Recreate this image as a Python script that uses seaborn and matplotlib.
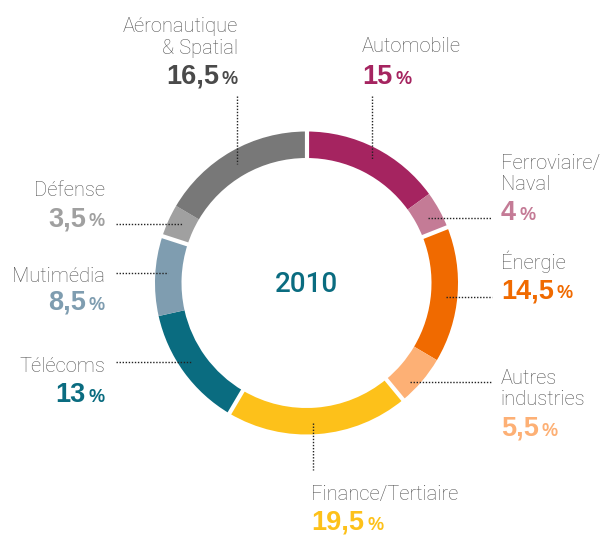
import matplotlib
matplotlib.use("Agg")
import matplotlib.pyplot as plt
import numpy as np
import seaborn as sns

# Data: share of revenue by sector, 2010 (clockwise from 12 o'clock)
sectors = ["Automobile", "Ferroviaire/\nNaval", "Énergie", "Autres\nindustries",
           "Finance/Tertiaire", "Télécoms", "Mutimédia", "Défense",
           "Aéronautique\n& Spatial"]
shares = [15, 4, 14.5, 5.5, 19.5, 13, 8.5, 3.5, 16.5]
colors = ["#A52460", "#C47B96", "#F06A00", "#FDB075", "#FDC11A",
          "#0A6C80", "#7F9DB0", "#A0A0A0", "#787878"]
number_colors = ["#A52460", "#C47B96", "#F06A00", "#FDB075", "#FDC11A",
                 "#0A6C80", "#7F9DB0", "#A0A0A0", "#4A4A4A"]
# white separator after this sector
gap_after = [False, True, False, True, True, False, True, False, True]
year = "2010"

# Label layout (pixel coords, y down): x, ha, line baselines, number baseline, leader line
layout = [
    (362, "left", [52.5], 84, [(372, 96), (372, 160)]),
    (501, "left", [169, 189.5], 220, [(428, 218), (492, 218)]),
    (501, "left", [269], 298.5, [(446, 297), (492, 297)]),
    (501, "left", [383.5, 405], 436, [(410, 382), (492, 382)]),
    (311, "left", [500], 529.5, [(313, 423), (313, 470)]),
    (105, "right", [372.5], 402.5, [(116, 362), (192, 362)]),
    (105, "right", [281.5], 309.5, [(116, 273), (168, 273)]),
    (105, "right", [196], 226.5, [(116, 224), (183, 224)]),
    (238, "right", [32.5, 53.5], 84, [(237, 96), (237, 164)]),
]

sns.set_theme(style="white")
plt.rcParams["font.family"] = ["Liberation Sans", "DejaVu Sans"]

W, H = 602, 536
fig = plt.figure(figsize=(W / 100, H / 100), dpi=100)
ax = fig.add_axes([0, 0, 1, 1])

cx, cy, r_out, ring = 306.5, 283, 151.5, 26.5
ax.pie(shares, colors=colors, startangle=-90, counterclock=True,
       center=(cx, cy), radius=r_out,
       wedgeprops=dict(width=ring, linewidth=0))
ax.set_xlim(0, W)
ax.set_ylim(H, 0)
ax.set_aspect("equal")
ax.axis("off")

# white gaps between sector groups
bounds = np.cumsum(shares) / np.sum(shares)
for f, g in zip(bounds, gap_after):
    if not g:
        continue
    a = np.deg2rad(-90 + 360 * f)
    rr = np.array([r_out - ring - 2, r_out + 2])
    ax.plot(cx + rr * np.cos(a), cy + rr * np.sin(a), color="white", lw=3,
            solid_capstyle="butt", zorder=3)

ax.text(cx, 291.5, year, ha="center", va="baseline", fontsize=20,
        family=["Roboto", "Liberation Sans"], fontweight="medium",
        color="#0A6C80")

renderer = fig.canvas.get_renderer()
inv = ax.transData.inverted()


def text_x_extent(t):
    bb = t.get_window_extent(renderer)
    (x0, _), (x1, _) = inv.transform([[bb.x0, bb.y0], [bb.x1, bb.y1]])
    return x0, x1


label_font = dict(family=["Roboto", "Liberation Sans"], fontweight="light",
                  fontsize=14.5, color="#555555")
for name, val, ncol, (x, ha, bases, nbase, leader) in zip(
        sectors, shares, number_colors, layout):
    for line, b in zip(name.split("\n"), bases):
        ax.text(x, b, line, ha=ha, va="baseline", **label_font)
    num = f"{val:g}".replace(".", ",")
    if ha == "left":
        t = ax.text(x, nbase, num, ha="left", va="baseline", fontsize=19.5,
                    fontweight="bold", color=ncol)
        _, x1 = text_x_extent(t)
        ax.text(x1 + 3, nbase, "%", ha="left", va="baseline", fontsize=13,
                fontweight="bold", color=ncol)
    else:
        p = ax.text(x, nbase, "%", ha="right", va="baseline", fontsize=13,
                    fontweight="bold", color=ncol)
        x0, _ = text_x_extent(p)
        ax.text(x0 - 3, nbase, num, ha="right", va="baseline", fontsize=19.5,
                fontweight="bold", color=ncol)
    (lx0, ly0), (lx1, ly1) = leader
    ax.plot([lx0, lx1], [ly0, ly1], color="#222222", lw=1,
            linestyle=(0, (1, 1.2)), zorder=4)

fig.savefig("out.png", dpi=100)
plt.close(fig)
